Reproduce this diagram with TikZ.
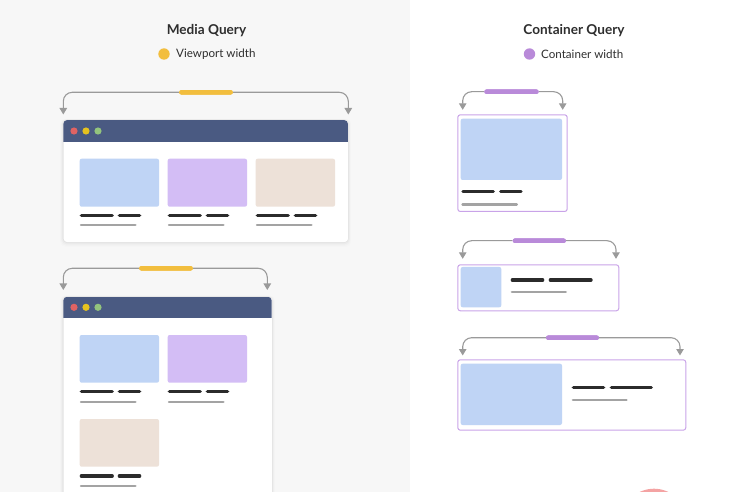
\documentclass[tikz,border=0pt]{standalone}
\usepackage{fontspec}
\setmainfont{Lato}
\usetikzlibrary{arrows.meta}
\definecolor{leftbg}{HTML}{F7F7F7}
\definecolor{head}{HTML}{4A5A82}
\definecolor{dotR}{HTML}{E06363}
\definecolor{dotY}{HTML}{E6C21F}
\definecolor{dotG}{HTML}{93C47D}
\definecolor{cardB}{HTML}{BFD4F5}
\definecolor{cardP}{HTML}{D3BDF5}
\definecolor{cardT}{HTML}{EDE1D8}
\definecolor{darkline}{HTML}{2B2B2B}
\definecolor{greyline}{HTML}{A3A3A3}
\definecolor{barY}{HTML}{F2BE3E}
\definecolor{barP}{HTML}{B98AD9}
\definecolor{brk}{HTML}{9A9A9A}
\definecolor{cborder}{HTML}{C9A3E8}
\definecolor{pinkc}{HTML}{F4A3A3}
\definecolor{txt}{HTML}{2E2E2E}
\newcommand\cardtext[4]{% left x, dark y, grey y, variant(1=browser)
  \draw[dk] (#1+1.7,#2) -- (#1+32.5,#2);
  \draw[dk] (#1+39.7,#2) -- (#1+59.9,#2);
  \draw[gl] (#1+1.3,#3) -- (#1+55.7,#3);}
\begin{document}
\begin{tikzpicture}[x=1pt,y=-1pt,
  title/.style={font=\bfseries\fontsize{13.6}{15}\selectfont, text=txt},
  legtxt/.style={font=\fontsize{11.6}{13}\selectfont, text=txt, anchor=west, inner sep=0},
  legdot/.style={circle, minimum size=11.4pt, inner sep=0},
  bar/.style={rectangle, rounded corners=2.2pt, minimum height=4.5pt, inner sep=0},
  brkt/.style={draw=brk, line width=1.1pt, rounded corners=9pt, -{Triangle[length=6.5pt,width=7.5pt]}},
  winbox/.style={rectangle, fill=white, rounded corners=4pt, inner sep=0, anchor=north west},
  cbox/.style={rectangle, draw=cborder, line width=1pt, fill=white, rounded corners=2.5pt, inner sep=0, anchor=north west},
  dk/.style={draw=darkline, line width=3.4pt, line cap=round},
  gl/.style={draw=greyline, line width=2.4pt, line cap=round},
  wdot/.style={circle, minimum size=7.2pt, inner sep=0},
]
\useasboundingbox (0,0) rectangle (732,492);
\fill[leftbg] (0,0) rectangle (410,492);
\fill[pinkc] (654,521.7) circle (33);

% titles and legends
\node[title] (t1) at (206.5,30.5) {Media Query};
\node[legdot, fill=barY] (d1) at (164,54) {};
\node[legtxt] (l1) at (176,54.5) {Viewport width};
\node[title] (t2) at (574,30.5) {Container Query};
\node[legdot, fill=barP] (d2) at (529.5,54) {};
\node[legtxt] (l2) at (541,54.5) {Container width};

% ---------- Browser window 1 ----------
\foreach \i/\o in {1/0.035,2/0.025,3/0.015,4/0.008}
  \fill[black, opacity=\o, rounded corners=5pt] (63.3-\i*0.8,120-\i*0.3) rectangle (348+\i*0.8,242+\i*1.2);
\node[winbox, minimum width=284.7pt, minimum height=122pt] (w1) at (63.3,120) {};
\begin{scope}
  \clip[rounded corners=4pt] (63.3,120) rectangle (348,242);
  \fill[head] (63.3,120) rectangle (348,142.3);
\end{scope}
\node[wdot, fill=dotR] (w1r) at (74,131) {};
\node[wdot, fill=dotY] (w1y) at (86,131) {};
\node[wdot, fill=dotG] (w1g) at (98,131) {};
\fill[cardB, rounded corners=2pt] (79.7,158.7) rectangle (159,206.7);
\fill[cardP, rounded corners=2pt] (167.7,158.7) rectangle (247,206.7);
\fill[cardT, rounded corners=2pt] (255.7,158.7) rectangle (335,206.7);
\cardtext{79.7}{215.7}{225.3}{1}
\cardtext{167.7}{215.7}{225.3}{1}
\cardtext{255.7}{215.7}{225.3}{1}
\node[bar, fill=barY, minimum width=53.7pt] (b1) at (206,92.3) {};
\coordinate (a1l) at (63.3,114.5);
\coordinate (a1r) at (348.3,114.5);
\draw[brkt] (b1.west) -| (a1l);
\draw[brkt] (b1.east) -| (a1r);
\node[bar, fill=barY, minimum width=53.7pt] at (b1) {};

% ---------- Browser window 2 ----------
\foreach \i/\o in {1/0.035,2/0.025,3/0.015,4/0.008}
  \fill[black, opacity=\o, rounded corners=5pt] (63.3-\i*0.8,296.7-\i*0.3) rectangle (271.7+\i*0.8,510);
\node[winbox, minimum width=208.4pt, minimum height=213pt] (w2) at (63.3,296.7) {};
\begin{scope}
  \clip[rounded corners=4pt] (63.3,296.7) rectangle (271.7,509.7);
  \fill[head] (63.3,296.7) rectangle (271.7,318.3);
\end{scope}
\node[wdot, fill=dotR] (w2r) at (74,307.3) {};
\node[wdot, fill=dotY] (w2y) at (86,307.3) {};
\node[wdot, fill=dotG] (w2g) at (98,307.3) {};
\fill[cardB, rounded corners=2pt] (79.7,335) rectangle (159,382.7);
\fill[cardP, rounded corners=2pt] (167.7,335) rectangle (247,382.7);
\fill[cardT, rounded corners=2pt] (79.7,419) rectangle (159,466.7);
\cardtext{79.7}{391.7}{401.7}{1}
\cardtext{167.7}{391.7}{401.7}{1}
\cardtext{79.7}{476}{485.7}{1}
\node[bar, fill=barY, minimum width=53.7pt] (b2) at (166,268.3) {};
\coordinate (a2l) at (63.3,290);
\coordinate (a2r) at (267.3,290);
\draw[brkt] (b2.west) -| (a2l);
\draw[brkt] (b2.east) -| (a2r);
\node[bar, fill=barY, minimum width=53.7pt] at (b2) {};

% ---------- Container 1 ----------
\node[cbox, minimum width=109.4pt, minimum height=96.7pt] (c1) at (457.3,114.3) {};
\fill[cardB, rounded corners=2pt] (460.7,118.7) rectangle (562,180);
\draw[dk] (463,191.7) -- (493.3,191.7);
\draw[dk] (500.7,191.7) -- (521,191.7);
\draw[gl] (462.5,204.7) -- (516.8,204.7);
\node[bar, fill=barP, minimum width=54.4pt] (b3) at (511.5,91.7) {};
\coordinate (a3l) at (462.7,109.8);
\coordinate (a3r) at (562.7,109.8);
\draw[brkt] (b3.west) -| (a3l);
\draw[brkt] (b3.east) -| (a3r);
\node[bar, fill=barP, minimum width=54.4pt] at (b3) {};

% ---------- Container 2 ----------
\node[cbox, minimum width=161pt, minimum height=46pt] (c2) at (457.3,264.3) {};
\fill[cardB, rounded corners=2pt] (460.7,267) rectangle (501.3,307.3);
\draw[dk] (512.4,280) -- (542.6,280);
\draw[dk] (550.4,280) -- (591,280);
\draw[gl] (511.9,292.3) -- (565.8,292.3);
\node[bar, fill=barP, minimum width=53.3pt] (b4) at (539.3,240.7) {};
\coordinate (a4l) at (462.7,258.8);
\coordinate (a4r) at (616,258.8);
\draw[brkt] (b4.west) -| (a4l);
\draw[brkt] (b4.east) -| (a4r);
\node[bar, fill=barP, minimum width=53.3pt] at (b4) {};

% ---------- Container 3 ----------
\node[cbox, minimum width=228pt, minimum height=70.4pt] (c3) at (457.3,359.3) {};
\fill[cardB, rounded corners=2pt] (460.7,363.7) rectangle (562,425);
\draw[dk] (573.4,387.3) -- (603.6,387.3);
\draw[dk] (611.4,387.3) -- (651.3,387.3);
\draw[gl] (572.9,400) -- (626.5,400);
\node[bar, fill=barP, minimum width=53pt] (b5) at (572.5,337.7) {};
\coordinate (a5l) at (462.7,355.5);
\coordinate (a5r) at (680,355.5);
\draw[brkt] (b5.west) -| (a5l);
\draw[brkt] (b5.east) -| (a5r);
\node[bar, fill=barP, minimum width=53pt] at (b5) {};
\end{tikzpicture}
\end{document}
